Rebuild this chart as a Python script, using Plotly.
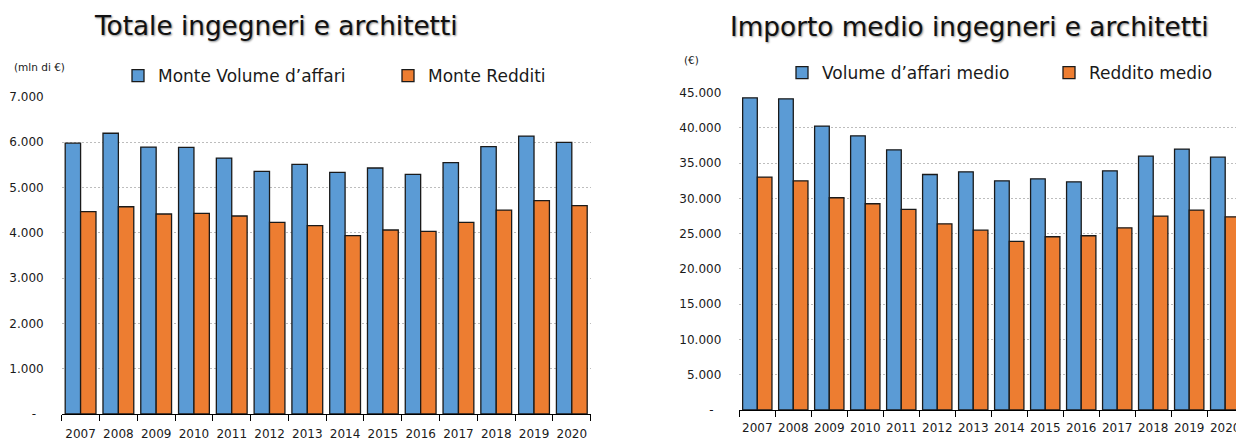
import plotly.graph_objects as go

years = ["2007", "2008", "2009", "2010", "2011", "2012", "2013",
         "2014", "2015", "2016", "2017", "2018", "2019", "2020"]

# Totale ingegneri e architetti (mln di €)
monte_volume = [5980, 6200, 5895, 5888, 5652, 5358, 5513,
                5336, 5432, 5292, 5549, 5902, 6138, 6000]
monte_redditi = [4467, 4577, 4416, 4431, 4372, 4232, 4158,
                 3937, 4063, 4033, 4232, 4504, 4710, 4600]

# Importo medio ingegneri e architetti (€)
volume_medio = [44270, 44130, 40260, 38880, 36900, 33400, 33780,
                32500, 32790, 32360, 33920, 36000, 37000, 35860]
reddito_medio = [33030, 32500, 30100, 29250, 28450, 26410, 25510,
                 23910, 24570, 24710, 25840, 27500, 28350, 27400]

left_ticks = [0, 1000, 2000, 3000, 4000, 5000, 6000, 7000]
left_ticktext = ["-\u00a0\u00a0", "1.000", "2.000", "3.000", "4.000", "5.000", "6.000", "7.000"]
right_ticks = [0, 5000, 10000, 15000, 20000, 25000, 30000, 35000, 40000, 45000]
right_ticktext = ["-\u00a0\u00a0", "5.000", "10.000", "15.000", "20.000", "25.000",
                  "30.000", "35.000", "40.000", "45.000"]

BLUE = "#5B9BD5"
ORANGE = "#ED7D31"
EDGE = "#1a1a1a"
W, H = 1236, 440
FONT = "DejaVu Sans"

fig = go.Figure()
fig.add_trace(go.Bar(x=years, y=monte_volume, name="Monte Volume d\u2019affari",
                     marker=dict(color=BLUE, line=dict(color=EDGE, width=1.3)),
                     xaxis="x", yaxis="y", legend="legend"))
fig.add_trace(go.Bar(x=years, y=monte_redditi, name="Monte Redditi",
                     marker=dict(color=ORANGE, line=dict(color=EDGE, width=1.3)),
                     xaxis="x", yaxis="y", legend="legend2"))
fig.add_trace(go.Bar(x=years, y=volume_medio, name="Volume d\u2019affari medio",
                     marker=dict(color=BLUE, line=dict(color=EDGE, width=1.3)),
                     xaxis="x2", yaxis="y2", legend="legend3"))
fig.add_trace(go.Bar(x=years, y=reddito_medio, name="Reddito medio",
                     marker=dict(color=ORANGE, line=dict(color=EDGE, width=1.3)),
                     xaxis="x2", yaxis="y2", legend="legend4"))

tickfont = dict(family=FONT, size=12, color="#1a1a1a")

xcommon = dict(type="category", tickson="boundaries", ticks="outside", ticklen=6,
               tickcolor="black", showline=True, linecolor="black", linewidth=1,
               showgrid=False, tickfont=tickfont, tickangle=0,
               automargin=False, fixedrange=True)
ycommon = dict(showgrid=True, griddash="2px,2px", gridcolor="#bdbdbd", gridwidth=1.3,
               zeroline=False, showline=False, ticks="", tickfont=tickfont,
               ticklabelstandoff=17, automargin=False, fixedrange=True)

def legend_at(px, py):
    return dict(x=px / W, y=1 - py / H, xanchor="left", yanchor="middle",
                orientation="h", bgcolor="rgba(0,0,0,0)", borderwidth=0,
                font=dict(family=FONT, size=17, color="#1a1a1a"),
                itemclick=False, itemdoubleclick=False)

fig.update_layout(
    width=W, height=H,
    margin=dict(l=0, r=0, t=0, b=0, autoexpand=False),
    paper_bgcolor="white", plot_bgcolor="white",
    barmode="group", bargap=0.185, bargroupgap=0,
    xaxis=dict(domain=[61.7 / W, 590.7 / W], range=[-0.5, 13.5], anchor="y",
               ticklabelstandoff=9, **xcommon),
    yaxis=dict(domain=[(H - 414) / H, (H - 97) / H], range=[0, 7000],
               tickvals=left_ticks, ticktext=left_ticktext, anchor="x", **ycommon),
    xaxis2=dict(domain=[739.3 / W, 1.0], range=[-0.5, 13.3], anchor="y2",
                ticklabelstandoff=7, **xcommon),
    yaxis2=dict(domain=[(H - 410) / H, (H - 92.7) / H], range=[0, 45000],
                tickvals=right_ticks, ticktext=right_ticktext, anchor="x2", **ycommon),
    legend=legend_at(118, 76),
    legend2=legend_at(388, 76),
    legend3=legend_at(782, 73),
    legend4=legend_at(1049, 73),
    showlegend=True,
)

title_font = dict(family=FONT, size=26.3, color="#111111",
                  shadow="1px 1px 2px rgba(0,0,0,0.45)")
fig.add_annotation(text="Totale ingegneri e architetti", x=276 / W, y=1 - 26 / H,
                   xref="paper", yref="paper", showarrow=False,
                   xanchor="center", yanchor="middle", font=title_font)
fig.add_annotation(text="Importo medio ingegneri e architetti", x=970 / W, y=1 - 27 / H,
                   xref="paper", yref="paper", showarrow=False,
                   xanchor="center", yanchor="middle", font=title_font)
fig.add_annotation(text="(mln di \u20ac)", x=12 / W, y=1 - 67 / H,
                   xref="paper", yref="paper", showarrow=False,
                   xanchor="left", yanchor="middle",
                   font=dict(family=FONT, size=10.5, color="#1a1a1a"))
fig.add_annotation(text="(\u20ac)", x=682 / W, y=1 - 60 / H,
                   xref="paper", yref="paper", showarrow=False,
                   xanchor="left", yanchor="middle",
                   font=dict(family=FONT, size=10.5, color="#1a1a1a"))

fig.write_html("out.html", config={"displayModeBar": False},
               post_script="document.body.style.margin='0';document.body.style.overflow='hidden';")
